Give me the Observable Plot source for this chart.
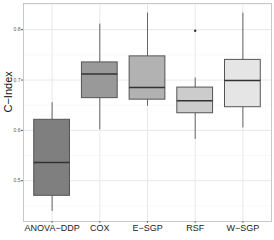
<!DOCTYPE html>
<html><head><meta charset="utf-8">
<script src="https://cdn.jsdelivr.net/npm/d3@7"></script>
<script src="https://cdn.jsdelivr.net/npm/@observablehq/plot@0.6"></script>
<style>body{margin:0;background:#fff;font-family:"Liberation Sans",Arial,sans-serif}</style>
</head><body><div id="chart"></div>
<script>
const methods = ["ANOVA−DDP", "COX", "E−SGP", "RSF", "W−SGP"];
const whiskerLow = [0.439, 0.601, 0.648, 0.582, 0.605];
const q1 = [0.470, 0.664, 0.661, 0.634, 0.646];
const median = [0.536, 0.712, 0.685, 0.659, 0.699];
const q3 = [0.621, 0.735, 0.747, 0.685, 0.740];
const whiskerHigh = [0.655, 0.811, 0.833, 0.704, 0.833];
const outlierMethod = ["RSF"];
const outlierValue = [0.798];
const fills = ["#7f7f7f", "#999999", "#b2b2b2", "#cccccc", "#e5e5e5"];
const yTicks = [0.5, 0.6, 0.7, 0.8];
const yMinor = [0.45, 0.55, 0.65, 0.75, 0.85];

const rows = methods.map((m, i) => ({
  m, pos: i + 1, lo: whiskerLow[i], q1: q1[i], med: median[i], q3: q3[i], hi: whiskerHigh[i], fill: fills[i]
}));
const outliers = outlierMethod.map((m, i) => ({pos: methods.indexOf(m) + 1, v: outlierValue[i]}));
const hw = 0.375;

const plot = Plot.plot({
  width: 274, height: 240,
  marginLeft: 23, marginRight: 3, marginTop: 3, marginBottom: 19,
  style: {fontFamily: "Liberation Sans, Arial, sans-serif", background: "#fff"},
  x: {domain: [0.4, 5.6], axis: null},
  y: {domain: [0.419, 0.852], axis: null},
  marks: [
    Plot.ruleY(yMinor, {stroke: "#f3f3f3", strokeWidth: 0.6}),
    Plot.ruleY(yTicks, {stroke: "#e8e8e8", strokeWidth: 1}),
    Plot.ruleX(rows, {x: "pos", stroke: "#e8e8e8", strokeWidth: 1}),
    Plot.ruleX(rows, {x: "pos", y1: "lo", y2: "q1", stroke: "#666", strokeWidth: 1}),
    Plot.ruleX(rows, {x: "pos", y1: "q3", y2: "hi", stroke: "#666", strokeWidth: 1}),
    Plot.rect(rows, {x1: d => d.pos - hw, x2: d => d.pos + hw, y1: "q1", y2: "q3", fill: "fill", stroke: "#555", strokeWidth: 1}),
    Plot.ruleY(rows, {x1: d => d.pos - hw, x2: d => d.pos + hw, y: "med", stroke: "#333", strokeWidth: 1.5}),
    Plot.dot(outliers, {x: "pos", y: "v", r: 1.2, fill: "#333", stroke: null}),
    Plot.frame({stroke: "#c8c8c8", strokeWidth: 1}),
    Plot.axisY(yTicks, {tickSize: 2, tickPadding: 1, fontSize: 5, stroke: "#555", fill: "#555", tickFormat: d => d.toFixed(1)}),
    Plot.axisX(rows.map(d => d.pos), {tickSize: 2, tickPadding: 1, fontSize: 9, fill: "#222", stroke: "#777", tickFormat: d => methods[d - 1], label: null}),
    Plot.text(["C−Index"], {frameAnchor: "left", dx: -15, rotate: -90, fontSize: 11, fill: "#111"})
  ]
});
document.getElementById("chart").appendChild(plot);
</script></body></html>
